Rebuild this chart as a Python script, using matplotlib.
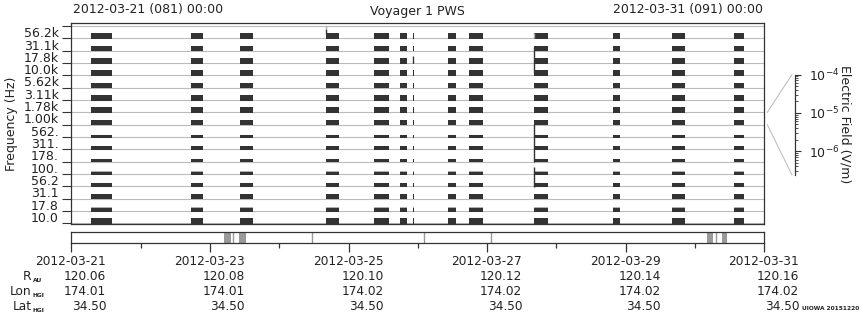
import matplotlib
matplotlib.use('Agg')
import matplotlib.pyplot as plt
import matplotlib.dates as mdates
from matplotlib.transforms import offset_copy, blended_transform_factory
from matplotlib.lines import Line2D
from datetime import datetime
import numpy as np

# ---------------- data ----------------
freq_labels = ['10.0', '17.8', '31.1', '56.2', '100.', '178.', '311.', '562.',
               '1.00k', '1.78k', '3.11k', '5.62k', '10.0k', '17.8k', '31.1k', '56.2k']
# relative intensity (bar height as fraction of channel) for dark and light parts
dark_level = [0.40, 0.24, 0.35, 0.27, 0.16, 0.19, 0.24, 0.19,
              0.40, 0.40, 0.40, 0.40, 0.40, 0.40, 0.40, 0.40]
light_level = [0.00, 0.32, 0.00, 0.00, 0.27, 0.00, 0.00, 0.00,
               0.00, 0.00, 0.00, 0.00, 0.00, 0.00, 0.00, 0.00]

obs_start = ['2012-03-21 06:49', '2012-03-22 17:27', '2012-03-23 10:25', '2012-03-24 16:12',
             '2012-03-25 08:50', '2012-03-25 17:50', '2012-03-25 22:21', '2012-03-26 10:28',
             '2012-03-26 17:44', '2012-03-27 16:21', '2012-03-28 19:36', '2012-03-29 16:02',
             '2012-03-30 13:31']
obs_end = ['2012-03-21 14:05', '2012-03-22 21:36', '2012-03-23 14:56', '2012-03-24 20:41',
           '2012-03-25 14:02', '2012-03-25 20:15', '2012-03-25 22:41', '2012-03-26 13:13',
           '2012-03-26 22:35', '2012-03-27 21:06', '2012-03-28 22:02', '2012-03-29 20:31',
           '2012-03-30 16:59']

# short bursts spanning several channels: time, lower channel, upper channel, shade
burst_time = ['2012-03-24 16:12', '2012-03-24 16:12', '2012-03-25 22:21',
              '2012-03-27 16:21', '2012-03-27 16:21', '2012-03-27 16:21', '2012-03-27 16:21']
burst_lo = [15.35, 15.75, 12.97, 12.19, 4.97, 2.94, 15.0]
burst_hi = [15.75, 16.00, 13.60, 14.32, 8.05, 4.57, 15.4]
burst_dark = [True, False, True, True, True, True, False]

# mode strip (lower panel)
mode_start = ['2012-03-23 04:52', '2012-03-23 10:05', '2012-03-30 04:05', '2012-03-30 09:22']
mode_end = ['2012-03-23 07:18', '2012-03-23 12:29', '2012-03-30 06:14', '2012-03-30 11:02']
mode_marks = ['2012-03-23 08:00', '2012-03-24 11:17', '2012-03-26 02:10',
              '2012-03-27 01:26', '2012-03-30 07:12']

tick_dates = ['2012-03-21', '2012-03-23', '2012-03-25', '2012-03-27', '2012-03-29', '2012-03-31']
r_au = ['120.06', '120.08', '120.10', '120.12', '120.14', '120.16']
lon_hgi = ['174.01', '174.01', '174.02', '174.02', '174.02', '174.02']
lat_hgi = ['34.50', '34.50', '34.50', '34.50', '34.50', '34.50']

# ---------------- figure ----------------
W, H = 860, 320
fig = plt.figure(figsize=(W / 100, H / 100), dpi=100)
fig.patch.set_facecolor('white')
TXT = '#222222'
DARK = '#333333'


def fx(px):
    return px / W


def fy(py):
    return 1 - py / H


def dt(s):
    return mdates.date2num(datetime.strptime(s, '%Y-%m-%d %H:%M'))


t0 = mdates.date2num(datetime(2012, 3, 21))
t1 = mdates.date2num(datetime(2012, 3, 31))

ax = fig.add_axes([fx(71.3), fy(224), fx(764.3) - fx(71.3), fy(23.3) - fy(224)])
nch = len(freq_labels)
ax.set_xlim(t0, t1)
ax.set_ylim(-0.057, nch + 0.22)
for b in range(nch + 1):
    ax.axhline(b, color='#bbbbbb', lw=0.8, zorder=1)

for ch in range(nch):
    xr = [(dt(s), dt(e) - dt(s)) for s, e in zip(obs_start, obs_end)]
    if light_level[ch] > 0:
        ax.broken_barh(xr, (ch - 0.05, light_level[ch] + 0.05), facecolors='#b0b0b0',
                       edgecolor='none', zorder=2)
    ax.broken_barh(xr, (ch - 0.05, dark_level[ch] + 0.05), facecolors=DARK,
                   edgecolor='none', zorder=3)

for t, lo, hi, dk in zip(burst_time, burst_lo, burst_hi, burst_dark):
    ax.vlines(dt(t), lo, hi, color=DARK if dk else '#aaaaaa', lw=1.0, zorder=4)

ax.set_yticks(range(nch + 1))
ax.set_yticklabels([])
ax.set_yticks(np.arange(nch) + 0.5, minor=True)
ax.set_yticklabels(freq_labels, minor=True)
ax.tick_params(axis='y', which='major', length=6.5, width=0.8, color=DARK, direction='out')
ax.tick_params(axis='y', which='minor', length=0, pad=8.9, labelsize=9, labelcolor=TXT)
ax.set_xticks([])
for s in ax.spines.values():
    s.set_color(DARK)
    s.set_linewidth(0.9)

# ---------------- mode strip ----------------
ax2 = fig.add_axes([fx(71.3), fy(242.7), fx(764.3) - fx(71.3), fy(231.7) - fy(242.7)])
ax2.set_xlim(t0, t1)
ax2.set_ylim(0, 1)
ax2.broken_barh([(dt(s), dt(e) - dt(s)) for s, e in zip(mode_start, mode_end)], (0, 1),
                facecolors='#999999', edgecolor='none')
for m in mode_marks:
    ax2.axvline(dt(m), color='#999999', lw=1.0)
ax2.set_yticks([])
ax2.xaxis.set_major_locator(mdates.DayLocator(interval=2))
ax2.xaxis.set_minor_locator(mdates.DayLocator())
ax2.set_xticklabels([])
ax2.tick_params(axis='x', which='major', length=6.5, width=0.9, color=DARK)
ax2.tick_params(axis='x', which='minor', length=3.3, width=0.9, color=DARK)
for s in ax2.spines.values():
    s.set_color(DARK)
    s.set_linewidth(0.9)

# bottom annotation rows
base = blended_transform_factory(ax2.transData, fig.transFigure)
tr = offset_copy(base, fig=fig, x=35, y=0, units='dots')
rows = [tick_dates, r_au, lon_hgi, lat_hgi]
row_y = [261.7, 276.7, 291.7, 306.7]
for vals, yy in zip(rows, row_y):
    for d, v in zip(tick_dates, vals):
        xd = mdates.date2num(datetime.strptime(d, '%Y-%m-%d'))
        fig.text(xd, fy(yy), v, transform=tr, ha='right', va='center',
                 fontsize=8.7, color=TXT)

row_names = [('R', 'AU'), ('Lon', 'HGI'), ('Lat', 'HGI')]
for (nm, sub), yy in zip(row_names, row_y[1:]):
    fig.text(fx(31.5), fy(yy), nm, ha='right', va='center', fontsize=8.7, color=TXT)
    fig.text(fx(32.5), fy(yy + 4), sub, ha='left', va='center', fontsize=4.3,
             fontweight='bold', color=TXT)

# ---------------- titles ----------------
fig.text(fx(417.5), fy(11.5), 'Voyager 1 PWS', ha='center', va='center', fontsize=9, color=TXT)
fig.text(fx(72.7), fy(9.5), '2012-03-21 (081) 00:00', ha='left', va='center', fontsize=9, color=TXT)
fig.text(fx(762.7), fy(9.5), '2012-03-31 (091) 00:00', ha='right', va='center', fontsize=9, color=TXT)
fig.text(fx(12), fy(123.7), 'Frequency (Hz)', rotation=90, ha='center', va='center',
         fontsize=9, color=TXT)
fig.text(fx(859), fy(309), 'UIOWA 20151220', ha='right', va='center', fontsize=4.2,
         fontweight='bold', color=TXT)

# ---------------- colour scale ----------------
cb_top, cb_bot = 74.5, 175.0
cax = fig.add_axes([fx(794.5), fy(cb_bot), 0.0005, fy(cb_top) - fy(cb_bot)])
cax.set_yscale('log')
cax.set_ylim(10 ** -6.62, 1e-4)
cax.yaxis.tick_right()
cax.set_xticks([])
for k in ['left', 'top', 'bottom']:
    cax.spines[k].set_visible(False)
cax.spines['right'].set_color(DARK)
cax.spines['right'].set_linewidth(0.9)
cax.tick_params(axis='y', which='major', length=4, width=0.8, color=DARK, pad=6,
                labelsize=9, labelcolor=TXT)
cax.tick_params(axis='y', which='minor', length=2.2, width=0.6, color=DARK)
fig.text(fx(845), fy(124), 'Electric Field (V/m)', rotation=270, ha='center', va='center',
         fontsize=9, color=TXT)

# connector lines from the 1.00k channel to the scale
to_fig = fig.transFigure.inverted()
p_hi = to_fig.transform(ax.transData.transform((t1, 9)))
p_lo = to_fig.transform(ax.transData.transform((t1, 8)))
off = 3 / W
fig.add_artist(Line2D([p_hi[0] + off, fx(792)], [p_hi[1], fy(cb_top)], color='#c0c0c0', lw=0.8))
fig.add_artist(Line2D([p_lo[0] + off, fx(792)], [p_lo[1], fy(cb_bot)], color='#c0c0c0', lw=0.8))

fig.savefig('out.png', dpi=100)
